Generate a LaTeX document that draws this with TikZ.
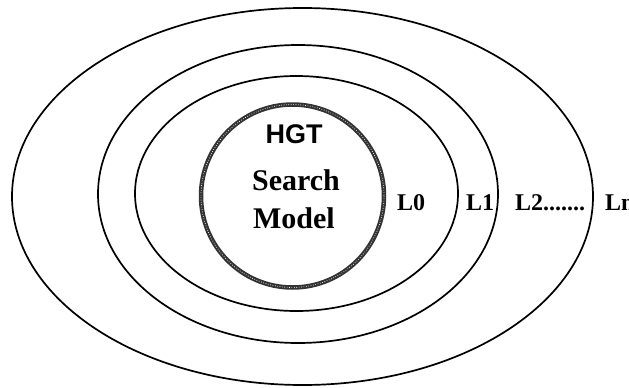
\documentclass[tikz,border=0pt]{standalone}
\usepackage{fontspec}
\setmainfont{Liberation Serif}
\setsansfont{Liberation Sans}
\usetikzlibrary{positioning}

\begin{document}
\begin{tikzpicture}[x=1pt, y=-1pt,
  layer/.style={draw, line width=1.7pt},
  core/.style={draw=black!80, line width=4.5pt},
  speckle/.style={draw=white, line width=0.8pt, dash pattern=on 0.6pt off 1.8pt},
  title/.style={font=\fontsize{27}{29}\selectfont\sffamily\bfseries, inner sep=0pt, anchor=base},
  coretext/.style={font=\fontsize{30}{32}\selectfont\bfseries, inner sep=0pt, anchor=base},
  levellabel/.style={font=\fontsize{24}{26}\selectfont\bfseries, inner sep=0pt, anchor=base west}
]
  \useasboundingbox (0,0) rectangle (629,388);

  % layers, outermost first
  \draw[layer] (302.5,196.5) ellipse [x radius=290.5, y radius=188.5];
  \draw[layer] (298,194) ellipse [x radius=200, y radius=149];
  \draw[layer] (296.5,193.5) ellipse [x radius=161.5, y radius=117.5];
  \draw[core] (292.5,196) circle [radius=91.5];
  \draw[speckle] (292.5,196) circle [radius=91.5];

  % core text
  \node[title] (hgt) at (294,143) {HGT};
  \node[coretext] (search) at (296,190) {Search};
  \node[coretext] (model) at (294,228) {Model};

  % level labels
  \node[levellabel] (l0) at (397,210) {L0};
  \node[levellabel] (l1) at (466,210) {L1};
  \node[levellabel] (l2) at (515,210) {L2.......};
  \node[levellabel] (ln) at (605,210) {Ln};
\end{tikzpicture}
\end{document}
